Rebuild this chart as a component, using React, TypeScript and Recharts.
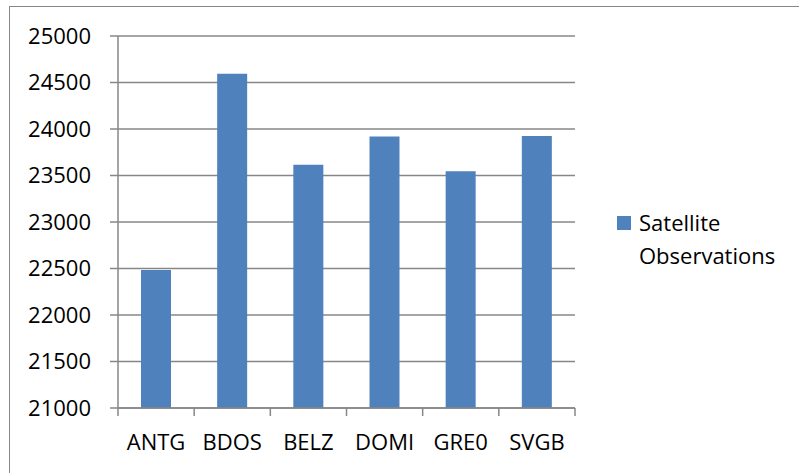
import { BarChart, Bar, XAxis, YAxis, CartesianGrid, Legend } from 'recharts';

const stations = ['ANTG', 'BDOS', 'BELZ', 'DOMI', 'GRE0', 'SVGB'];
const observations = [22485, 24595, 23615, 23920, 23545, 23925];
const yTicks = [21000, 21500, 22000, 22500, 23000, 23500, 24000, 24500, 25000];

const data = stations.map((name, i) => ({ name, obs: observations[i] }));

const FONT = '"Open Sans", sans-serif';
const GREY = '#878787';
const BLUE = '#4f81bd';

function StationTick(props: any) {
    const { x, y, payload, index, visibleTicksCount } = props;
    const half = payload.offset || 0;
    return (
        <g>
            <line x1={x - half} x2={x - half} y1={y} y2={y + 8} stroke={GREY} strokeWidth={1.5} />
            {index === visibleTicksCount - 1 && (
                <line x1={x + half} x2={x + half} y1={y} y2={y + 8} stroke={GREY} strokeWidth={1.5} />
            )}
            <text x={x} y={y + 42} textAnchor="middle" fill="#000" fontSize={22} fontFamily={FONT}>
                {payload.value}
            </text>
        </g>
    );
}

function SatLegend() {
    return (
        <div style={{ display: 'flex', alignItems: 'flex-start', fontFamily: FONT, fontSize: 22, lineHeight: '33px', color: '#000' }}>
            <div style={{ width: 14, height: 14, background: BLUE, marginTop: 10, marginRight: 8 }} />
            <div>
                Satellite
                <br />
                Observations
            </div>
        </div>
    );
}

export default function App() {
    return (
        <div style={{ position: 'absolute', left: 0, top: 0, width: 799, height: 473, background: '#fff', overflow: 'hidden' }}>
            <div
                style={{
                    position: 'absolute',
                    left: 9,
                    top: 6,
                    width: 800,
                    height: 480,
                    borderTop: `1.5px solid ${GREY}`,
                    borderLeft: `1.5px solid ${GREY}`,
                }}
            />
            <div style={{ position: 'absolute', left: 0, top: 0 }}>
                <BarChart
                    width={799}
                    height={473}
                    data={data}
                    margin={{ top: 36, right: 224, left: 0, bottom: 0 }}
                >
                    <CartesianGrid vertical={false} stroke={GREY} strokeWidth={1.5} />
                    <XAxis
                        dataKey="name"
                        height={65}
                        axisLine={{ stroke: GREY, strokeWidth: 1.5 }}
                        tickLine={false}
                        tickSize={0}
                        tickMargin={0}
                        tick={<StationTick />}
                        interval={0}
                    />
                    <YAxis
                        width={118}
                        domain={[21000, 25000]}
                        ticks={yTicks}
                        interval={0}
                        axisLine={{ stroke: GREY, strokeWidth: 1.5 }}
                        tickLine={{ stroke: GREY, strokeWidth: 1.5 }}
                        tickSize={8}
                        tickMargin={19}
                        tick={{ fill: '#000', fontSize: 22, fontFamily: FONT }}
                    />
                    <Legend
                        layout="vertical"
                        align="center"
                        verticalAlign="middle"
                        content={<SatLegend />}
                        wrapperStyle={{ position: 'absolute', left: 617, top: 206, width: 180 }}
                    />
                    <Bar dataKey="obs" name="Satellite Observations" fill={BLUE} barSize={30} isAnimationActive={false} />
                </BarChart>
            </div>
        </div>
    );
}
